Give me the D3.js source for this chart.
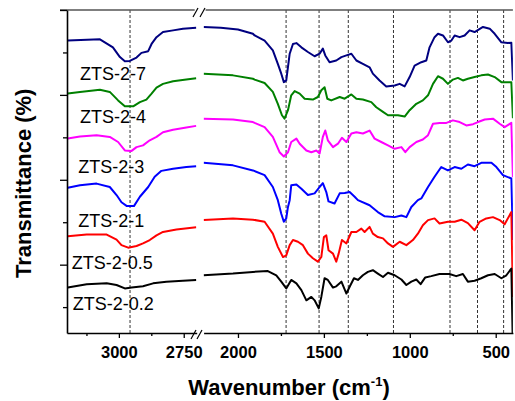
<!DOCTYPE html>
<html><head><meta charset="utf-8">
<script src="https://cdn.jsdelivr.net/npm/d3@7"></script>
<style>
body{margin:0;background:#fff}
svg{display:block}
text{font-family:"Liberation Sans",Arial,sans-serif}
</style>
</head><body>
<svg id="chart" width="515" height="401"></svg>
<script>
// ---------------- DATA ----------------
const seriesNames = ["ZTS-2-7","ZTS-2-4","ZTS-2-3","ZTS-2-1","ZTS-2-0.5","ZTS-2-0.2"];
const seriesColors = ["#000080","#008000","#FF00FF","#0000FF","#FF0000","#000000"];

const zts27 = [[3197,72.8],[3073,73.1],[3023,71.2],[2996,68.9],[2977,67.9],[2958,68.0],[2932,68.8],[2913,69.9],[2887,70.3],[2874,72.0],[2855,73.6],[2830,74.8],[2791,75.2],[2753,75.6],[2702,75.8],
[2200,76.0],[2100,75.8],[2000,75.4],[1913,74.4],[1903,74.0],[1845,72.8],[1797,70.5],[1768,67.3],[1748,65.0],[1733,63.0],[1719,63.4],[1699,69.7],[1680,72.0],[1660,72.2],[1631,71.2],[1593,70.1],[1554,69.1],[1525,69.7],[1506,70.9],[1492,69.3],[1467,67.7],[1428,68.1],[1398,68.9],[1369,69.3],[1340,69.7],[1311,68.1],[1273,67.3],[1234,66.5],[1215,65.0],[1176,63.4],[1137,62.0],[1088,62.2],[1059,62.6],[1030,62.0],[1001,64.2],[972,66.9],[933,67.7],[904,68.1],[885,71.2],[856,73.6],[836,74.4],[807,74.0],[778,72.4],[758,72.8],[739,74.0],[710,73.6],[681,74.0],[652,75.2],[623,74.8],[574,76.0],[535,75.6],[506,74.4],[467,72.4],[429,72.2],[409,72.3],[400,63.4]];

const zts24 = [[3197,60.3],[3150,60.7],[3073,61.2],[3035,60.7],[3003,58.7],[2977,57.3],[2945,57.3],[2919,58.3],[2894,58.9],[2874,60.3],[2855,61.7],[2830,62.6],[2791,63.2],[2740,63.6],[2702,63.9],
[2200,65.0],[2029,64.6],[1913,63.8],[1903,63.6],[1845,62.8],[1797,60.7],[1768,57.9],[1744,55.2],[1729,54.4],[1709,56.4],[1690,59.9],[1670,60.9],[1641,60.3],[1612,59.1],[1564,58.9],[1535,59.5],[1515,61.1],[1496,61.8],[1480,59.1],[1457,58.7],[1408,59.5],[1379,59.1],[1340,60.1],[1311,59.1],[1273,58.9],[1224,58.3],[1195,57.1],[1156,56.0],[1127,55.2],[1069,55.2],[1030,54.9],[1001,56.4],[962,57.9],[924,58.7],[894,59.9],[865,62.6],[836,64.4],[807,63.8],[778,62.6],[749,63.6],[720,64.0],[691,63.4],[662,63.8],[623,64.2],[584,64.6],[545,64.8],[506,64.2],[467,63.0],[409,63.0],[400,54.5]];

const zts23 = [[3197,49.7],[3150,50.2],[3086,50.5],[3035,50.1],[3003,48.9],[2977,46.9],[2951,46.8],[2932,47.7],[2907,48.1],[2881,49.3],[2855,50.1],[2830,51.2],[2791,51.8],[2740,52.3],[2702,52.7],
[2200,54.4],[2029,54.2],[1913,53.6],[1903,53.4],[1845,52.4],[1797,50.1],[1758,46.5],[1733,45.5],[1709,46.5],[1690,48.9],[1660,49.7],[1641,48.5],[1602,46.9],[1573,46.5],[1544,46.9],[1525,46.2],[1506,50.1],[1492,51.6],[1477,49.3],[1447,47.7],[1418,48.5],[1395,49.9],[1369,48.9],[1340,50.9],[1311,51.2],[1273,50.9],[1234,51.6],[1205,49.7],[1166,48.9],[1127,48.1],[1088,47.3],[1049,47.7],[1026,46.5],[1001,47.7],[962,48.9],[924,49.5],[894,50.5],[865,53.2],[826,53.4],[787,53.4],[749,54.0],[710,53.6],[671,52.8],[632,53.1],[603,53.6],[564,54.2],[516,54.4],[477,53.2],[448,52.4],[409,53.4],[400,40.6]];

const zts21 = [[3197,38.1],[3150,38.7],[3086,39.1],[3035,38.3],[3009,36.4],[2990,34.7],[2969,33.8],[2942,33.8],[2919,36.0],[2887,38.3],[2862,40.7],[2836,42.1],[2791,42.6],[2740,43.0],[2702,43.2],
[2200,44.0],[2029,43.4],[1913,42.2],[1845,41.1],[1797,38.3],[1768,35.2],[1748,32.0],[1733,30.1],[1719,30.9],[1709,33.6],[1699,35.2],[1690,38.7],[1660,38.9],[1631,37.9],[1593,36.4],[1554,36.8],[1525,38.3],[1506,39.2],[1486,37.1],[1473,34.9],[1438,34.4],[1408,36.8],[1379,36.9],[1350,37.1],[1321,36.0],[1302,35.2],[1234,34.0],[1186,32.4],[1146,31.4],[1088,31.2],[1049,31.6],[1020,31.2],[991,33.6],[953,35.2],[933,35.6],[894,38.3],[856,40.7],[817,43.0],[778,42.2],[739,43.0],[700,42.6],[662,43.6],[623,43.2],[584,44.0],[525,44.0],[496,43.0],[458,41.1],[409,40.3],[400,25.8]];

const zts205 = [[3197,26.7],[3124,27.1],[3047,27.1],[3009,25.9],[2990,24.6],[2964,24.0],[2932,24.4],[2907,25.0],[2881,25.8],[2855,26.9],[2830,27.7],[2778,28.3],[2702,28.8],
[2200,30.5],[2029,30.9],[1913,30.6],[1845,30.1],[1797,27.3],[1768,24.2],[1738,21.8],[1719,22.2],[1699,24.6],[1680,25.8],[1651,25.4],[1622,24.6],[1593,22.6],[1564,21.5],[1535,20.7],[1515,21.8],[1500,26.5],[1486,26.9],[1473,23.4],[1447,22.6],[1428,20.7],[1414,22.6],[1395,25.8],[1369,25.0],[1340,27.7],[1311,27.7],[1282,28.5],[1263,27.7],[1234,28.9],[1215,27.3],[1186,26.5],[1156,26.2],[1127,25.0],[1098,24.2],[1059,25.4],[1020,24.6],[982,25.8],[953,27.3],[924,29.3],[894,30.5],[856,30.9],[827,29.7],[778,30.1],[739,30.1],[700,30.6],[662,29.8],[623,28.1],[594,30.1],[555,30.9],[516,31.2],[477,30.5],[448,29.5],[409,32.4],[400,12.4]];

const zts202 = [[3197,14.6],[3124,15.4],[3047,15.6],[3009,15.2],[2977,14.4],[2951,14.6],[2907,14.9],[2868,15.6],[2817,16.0],[2753,16.2],[2702,16.4],
[2200,17.5],[2029,17.9],[1913,18.3],[1826,18.5],[1777,17.5],[1748,16.0],[1719,14.4],[1690,16.4],[1660,15.6],[1631,14.0],[1602,11.6],[1573,12.4],[1554,11.6],[1530,9.7],[1515,12.4],[1496,16.8],[1477,16.4],[1447,14.6],[1428,14.9],[1398,16.0],[1369,13.2],[1350,14.8],[1325,16.8],[1302,16.4],[1273,17.5],[1244,18.3],[1215,18.7],[1186,17.9],[1156,17.1],[1127,18.1],[1088,17.5],[1049,16.5],[1020,15.2],[991,16.0],[962,16.5],[937,15.4],[910,17.0],[875,17.3],[827,17.8],[769,17.8],[730,17.3],[691,17.8],[662,16.0],[623,16.2],[584,16.8],[545,17.5],[506,17.8],[467,16.8],[438,17.5],[409,19.1],[400,0]];

const seriesData = [zts27, zts24, zts23, zts21, zts205, zts202];

const dashedLeft = [2957];
const dashedRight = [1720, 1528, 1358, 1095, 766, 606, 454];

const tickLeftMajor = [3000, 2750];
const tickLeftMinor = [3125, 2875];
const tickRightMajor = [2000, 1500, 1000, 500];
const tickRightMinor = [1750, 1250, 750];
const yMajor = [20, 40, 60, 80];
const yMinor = [10, 30, 50, 70];

// ---------------- LAYOUT ----------------
const svg = d3.select("#chart");
const plotTop = 10, plotBottom = 333;
const xL = d3.scaleLinear().domain([3200, 2700]).range([67, 196.7]);
const xR = d3.scaleLinear().domain([2200, 400]).range([203.6, 512.9]);
const y = d3.scaleLinear().domain([3.9, 80]).range([plotBottom, plotTop]);

const defs = svg.append("defs");
defs.append("clipPath").attr("id","clipL").append("rect")
  .attr("x", xL.range()[0]).attr("y", plotTop).attr("width", xL.range()[1]-xL.range()[0]).attr("height", plotBottom-plotTop);
defs.append("clipPath").attr("id","clipR").append("rect")
  .attr("x", xR.range()[0]).attr("y", plotTop).attr("width", xR.range()[1]-xR.range()[0]).attr("height", plotBottom-plotTop);

// dashed lines
const dash = svg.append("g").attr("stroke","#333").attr("stroke-width",1).attr("stroke-dasharray","3,2");
dash.selectAll("line.l").data(dashedLeft).join("line")
  .attr("x1", d=>xL(d)).attr("x2", d=>xL(d)).attr("y1", plotTop).attr("y2", plotBottom);
dash.selectAll("line.r").data(dashedRight).join("line")
  .attr("x1", d=>xR(d)).attr("x2", d=>xR(d)).attr("y1", plotTop).attr("y2", plotBottom);

// curves
const lineL = d3.line().x(d=>xL(d[0])).y(d=>y(d[1]));
const lineR = d3.line().x(d=>xR(d[0])).y(d=>y(d[1]));
const gL = svg.append("g").attr("clip-path","url(#clipL)");
const gR = svg.append("g").attr("clip-path","url(#clipR)");
seriesData.forEach((s,i)=>{
  gL.append("path").attr("d", lineL(s.filter(d=>d[0]>=2700)))
    .attr("fill","none").attr("stroke",seriesColors[i]).attr("stroke-width",2).attr("stroke-linejoin","round");
  gR.append("path").attr("d", lineR(s.filter(d=>d[0]<=2200)))
    .attr("fill","none").attr("stroke",seriesColors[i]).attr("stroke-width",2).attr("stroke-linejoin","round");
});

// top frame line
svg.append("line").attr("x1", 60).attr("x2", xL.range()[1]-2).attr("y1", y(80)).attr("y2", y(80))
  .attr("stroke","#555").attr("stroke-width",1.6);
svg.append("line").attr("x1", xR.range()[0]+2).attr("x2", xR.range()[1]).attr("y1", y(80)).attr("y2", y(80))
  .attr("stroke","#555").attr("stroke-width",1.6);

// axes
function styleAxis(g){
  g.select(".domain").attr("stroke","#000").attr("stroke-width",1.6);
  g.selectAll(".tick line").attr("stroke","#000").attr("stroke-width",1.3);
}
const yAx = svg.append("g").attr("transform",`translate(${xL.range()[0]},0)`)
  .call(d3.axisLeft(y).tickValues(yMajor).tickSize(7).tickSizeOuter(0).tickFormat(""));
styleAxis(yAx);
const yAxMin = svg.append("g").attr("transform",`translate(${xL.range()[0]},0)`)
  .call(d3.axisLeft(y).tickValues(yMinor).tickSize(4).tickSizeOuter(0).tickFormat(""));
yAxMin.select(".domain").remove(); styleAxis(yAxMin);

function bottomAxis(scale, major, minor){
  const g = svg.append("g").attr("transform",`translate(0,${plotBottom})`)
    .call(d3.axisBottom(scale).tickValues(major).tickSize(5).tickSizeOuter(0).tickFormat(d3.format("d")));
  styleAxis(g);
  g.selectAll(".tick text").attr("y", 25).attr("dy", 0)
    .style("font-family",'"Liberation Sans",Arial,sans-serif').style("font-size","16.5px").style("font-weight","bold").attr("fill","#000");
  const gm = svg.append("g").attr("transform",`translate(0,${plotBottom})`)
    .call(d3.axisBottom(scale).tickValues(minor).tickSize(3).tickSizeOuter(0).tickFormat(""));
  gm.select(".domain").remove(); styleAxis(gm);
}
bottomAxis(xL, tickLeftMajor, tickLeftMinor);
bottomAxis(xR, tickRightMajor, tickRightMinor);

// break marks
const brk = svg.append("g").attr("stroke","#000").attr("stroke-width",1.2);
[[193,17,198,8],[200,17,205,8],[191,339,196,330],[197,339,202,330]].forEach(s=>{
  brk.append("line").attr("x1",s[0]).attr("y1",s[1]).attr("x2",s[2]).attr("y2",s[3]);
});

// series labels
const labelPos = [[80,80],[80,123],[78.3,172.7],[78.3,226.5],[71.7,268.5],[72.7,310]];
seriesNames.forEach((n,i)=>{
  svg.append("text").attr("x",labelPos[i][0]).attr("y",labelPos[i][1])
    .attr("font-size","18px").attr("fill","#000").text(n);
});

// axis titles
const xt = svg.append("text").attr("x",289).attr("y",395).attr("text-anchor","middle")
  .attr("font-size","22px").attr("font-weight","bold").attr("fill","#000");
xt.append("tspan").text("Wavenumber (cm");
xt.append("tspan").attr("font-size","13px").attr("dy",-9).text("-1");
xt.append("tspan").attr("dy",9).text(")");

svg.append("text").attr("transform","translate(31,183.3) rotate(-90)").attr("text-anchor","middle")
  .attr("font-size","22px").attr("font-weight","bold").attr("fill","#000").text("Transmittance (%)");
</script>
</body></html>
